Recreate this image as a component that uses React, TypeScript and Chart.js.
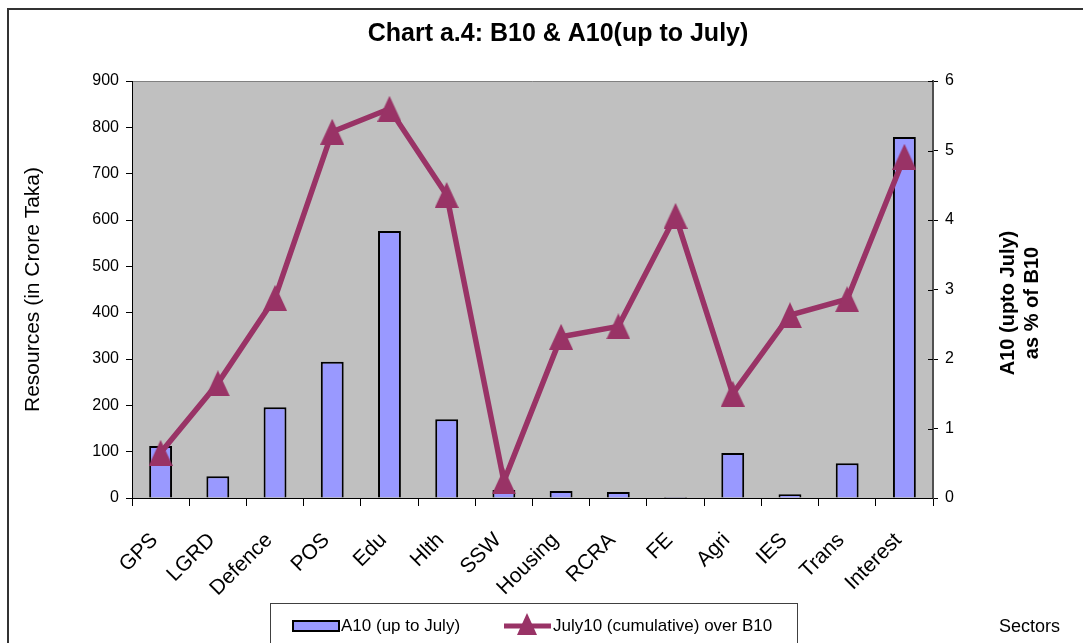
import React, { useEffect, useRef } from "react";
import { Chart, registerables } from "chart.js";

Chart.register(...registerables);

const categories = ["GPS", "LGRD", "Defence", "POS", "Edu", "Hlth", "SSW", "Housing", "RCRA", "FE", "Agri", "IES", "Trans", "Interest"];
const a10Values = [112, 47, 196, 294, 576, 170, 17, 15, 13, 2, 97, 8, 75, 779];
const pctOfB10 = [0.65, 1.65, 2.88, 5.27, 5.6, 4.36, 0.24, 2.32, 2.47, 4.06, 1.5, 2.63, 2.86, 4.91];

const titleText = "Chart a.4: B10 & A10(up to July)";
const leftAxisTitle = "Resources (in Crore Taka)";
const rightAxisTitle = ["A10 (upto July)", "as % of B10"];
const xAxisTitle = "Sectors";
const barLabel = "A10 (up to July)";
const lineLabel = "July10 (cumulative) over B10";

const BAR_COLOR = "#9999FF";
const LINE_COLOR = "#993366";
const FONT = "Arial, 'Liberation Sans', sans-serif";

function drawTri(ctx: CanvasRenderingContext2D, cx: number, cy: number, w: number, h: number) {
  ctx.beginPath();
  ctx.moveTo(cx, cy - h / 2);
  ctx.lineTo(cx + w / 2, cy + h / 2);
  ctx.lineTo(cx - w / 2, cy + h / 2);
  ctx.closePath();
  ctx.fill();
}

function makeMarker(): HTMLCanvasElement {
  const c = document.createElement("canvas");
  c.width = 24;
  c.height = 26;
  const g = c.getContext("2d")!;
  g.fillStyle = LINE_COLOR;
  drawTri(g, 12, 13, 24, 26);
  return c;
}

const decor = {
  id: "decor",
  beforeDraw(chart: any) {
    const { ctx, chartArea: a } = chart;
    ctx.save();
    ctx.fillStyle = "#ffffff";
    ctx.fillRect(0, 0, chart.width, chart.height);
    ctx.strokeStyle = "#333333";
    ctx.lineWidth = 2;
    ctx.beginPath();
    ctx.moveTo(8, chart.height);
    ctx.lineTo(8, 9);
    ctx.lineTo(chart.width, 9);
    ctx.stroke();
    ctx.fillStyle = "#C0C0C0";
    ctx.fillRect(a.left, a.top, a.right - a.left, a.bottom - a.top);
    ctx.strokeStyle = "#808080";
    ctx.lineWidth = 1;
    ctx.beginPath();
    ctx.moveTo(a.left, a.top + 0.5);
    ctx.lineTo(a.right, a.top + 0.5);
    ctx.stroke();
    ctx.restore();
  },
  afterDraw(chart: any) {
    const { ctx, chartArea: a } = chart;
    ctx.save();
    ctx.fillStyle = "#000";
    ctx.font = `bold 25px ${FONT}`;
    ctx.textAlign = "center";
    ctx.textBaseline = "middle";
    ctx.fillText(titleText, 558, 34);
    ctx.font = `21px ${FONT}`;
    ctx.save();
    ctx.translate(33, (a.top + a.bottom) / 2);
    ctx.rotate(-Math.PI / 2);
    ctx.fillText(leftAxisTitle, 0, 0);
    ctx.restore();
    ctx.font = `bold 20px ${FONT}`;
    ctx.save();
    ctx.translate(1020, 303);
    ctx.rotate(-Math.PI / 2);
    ctx.fillText(rightAxisTitle[0], 0, -12);
    ctx.fillText(rightAxisTitle[1], 0, 12);
    ctx.restore();
    const y1 = chart.scales.y1;
    ctx.strokeStyle = "#000";
    ctx.lineWidth = 1;
    for (const t of y1.ticks) {
      const py = Math.round(y1.getPixelForValue(t.value)) + 0.5;
      ctx.beginPath();
      ctx.moveTo(a.right - 5, py);
      ctx.lineTo(a.right, py);
      ctx.stroke();
    }
    ctx.strokeStyle = "#404040";
    ctx.lineWidth = 1;
    ctx.strokeRect(270.5, 603.5, 527, 60);
    ctx.fillStyle = BAR_COLOR;
    ctx.fillRect(293, 621, 46, 10);
    ctx.strokeStyle = "#000";
    ctx.lineWidth = 2;
    ctx.strokeRect(293, 621, 46, 10);
    ctx.fillStyle = "#000";
    ctx.font = `17px ${FONT}`;
    ctx.textAlign = "left";
    ctx.fillText(barLabel, 341, 626);
    ctx.strokeStyle = LINE_COLOR;
    ctx.lineWidth = 5;
    ctx.beginPath();
    ctx.moveTo(504, 626);
    ctx.lineTo(551, 626);
    ctx.stroke();
    ctx.fillStyle = LINE_COLOR;
    drawTri(ctx, 527, 624, 20, 22);
    ctx.fillStyle = "#000";
    ctx.fillText(lineLabel, 553, 626);
    ctx.font = `18px ${FONT}`;
    ctx.fillText(xAxisTitle, 999, 627);
    ctx.restore();
  },
};

export default function App() {
  const ref = useRef<HTMLCanvasElement | null>(null);
  useEffect(() => {
    if (!ref.current) return;
    const marker = makeMarker();
    const chart = new Chart(ref.current, {
      type: "bar",
      data: {
        labels: categories,
        datasets: [
          {
            type: "line",
            label: lineLabel,
            data: pctOfB10,
            yAxisID: "y1",
            borderColor: LINE_COLOR,
            backgroundColor: LINE_COLOR,
            borderWidth: 5.5,
            pointStyle: marker,
            pointRadius: 12,
            tension: 0,
            order: 0,
          } as any,
          {
            type: "bar",
            label: barLabel,
            data: a10Values,
            yAxisID: "y",
            backgroundColor: BAR_COLOR,
            borderColor: "#000",
            borderWidth: 2,
            categoryPercentage: 1,
            barPercentage: 0.4,
            order: 1,
          },
        ],
      },
      options: {
        animation: false,
        responsive: false,
        maintainAspectRatio: false,
        layout: { padding: { top: 81, left: 0, right: 0, bottom: 0 } },
        plugins: {
          legend: { display: false },
          title: { display: false },
          tooltip: { enabled: false },
        },
        scales: {
          x: {
            offset: true,
            grid: {
              offset: true,
              drawOnChartArea: false,
              drawTicks: true,
              tickLength: 8,
              color: "#000",
            },
            border: { display: true, color: "#000", width: 1 },
            ticks: {
              autoSkip: false,
              minRotation: 45,
              maxRotation: 45,
              padding: 22,
              labelOffset: -6,
              color: "#000",
              font: { family: FONT, size: 21 },
            },
            afterFit: (s: any) => {
              s.height = 145;
            },
          },
          y: {
            position: "left",
            min: 0,
            max: 900,
            ticks: {
              stepSize: 100,
              padding: 7,
              color: "#000",
              font: { family: FONT, size: 16 },
            },
            grid: { drawOnChartArea: false, tickLength: 6, color: "#000" },
            border: { display: true, color: "#000", width: 1 },
            afterFit: (s: any) => {
              s.width = 132;
            },
          },
          y1: {
            position: "right",
            min: 0,
            max: 6,
            ticks: {
              stepSize: 1,
              padding: 7,
              color: "#000",
              font: { family: FONT, size: 16 },
            },
            grid: { drawOnChartArea: false, tickLength: 5, color: "#000" },
            border: { display: true, color: "#505050", width: 2 },
            afterFit: (s: any) => {
              s.width = 150;
            },
          },
        },
      },
      plugins: [decor],
    });
    return () => chart.destroy();
  }, []);
  return (
    <div style={{ position: "fixed", left: 0, top: 0, width: 1083, height: 643 }}>
      <canvas ref={ref} width={1083} height={643} style={{ display: "block" }} />
    </div>
  );
}
